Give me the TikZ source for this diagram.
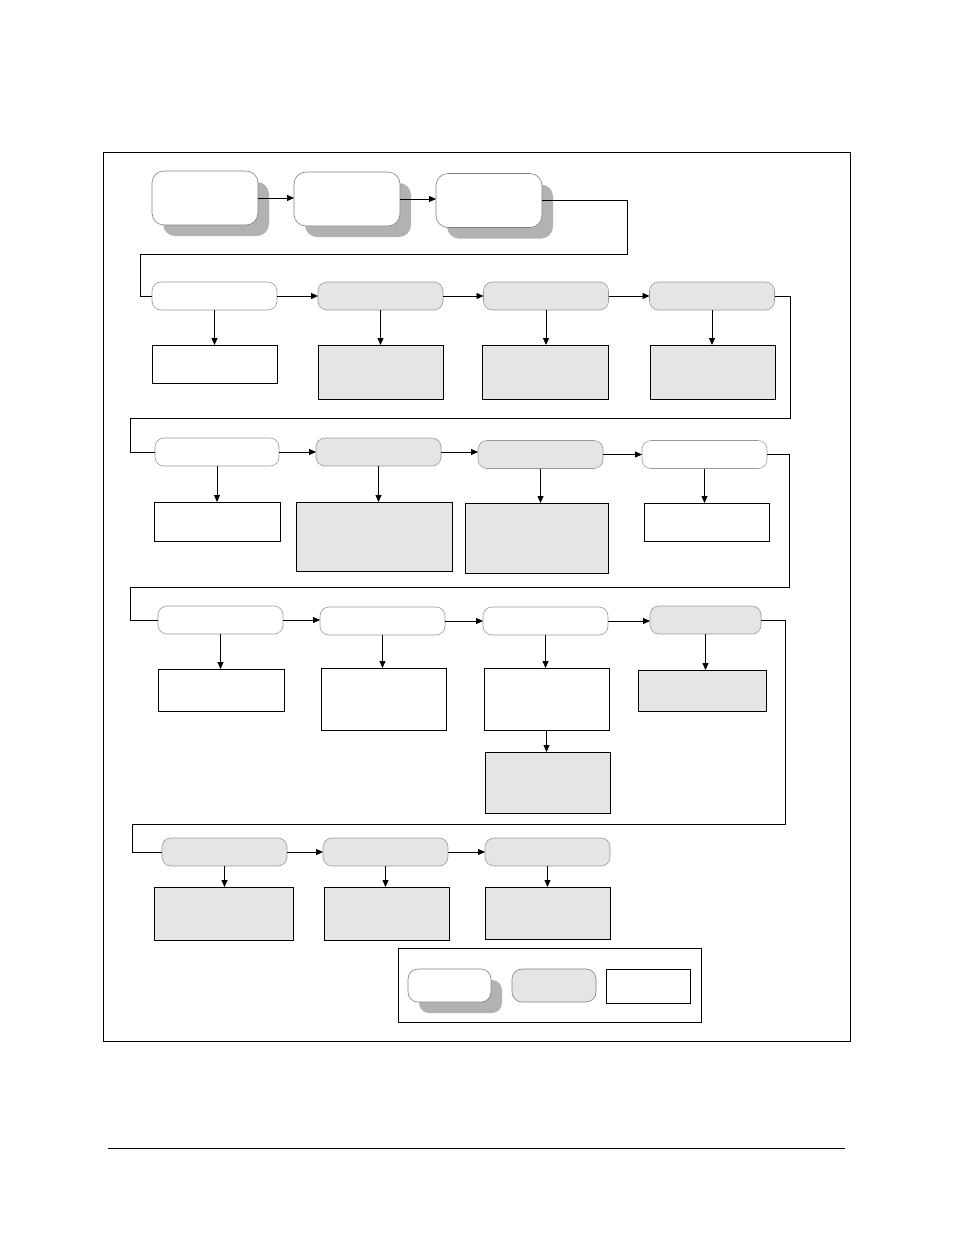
\documentclass[tikz,border=0pt]{standalone}
\usetikzlibrary{arrows.meta,shadows}

\begin{document}
\begin{tikzpicture}[x=1pt,y=-1pt,
    startbox/.style={draw=gray, fill=white, rounded corners=12pt, line width=0.6pt,
        minimum width=106pt, minimum height=54pt, inner sep=0pt, outer sep=0pt,
        drop shadow={shadow xshift=11pt, shadow yshift=-11pt, fill=gray!60, opacity=1}},
    stagebox/.style={draw=gray!80, fill=white, rounded corners=9pt, line width=0.6pt,
        minimum width=125pt, minimum height=28pt, inner sep=0pt, outer sep=0pt},
    stagegray/.style={stagebox, fill=gray!20},
    outbox/.style={draw=black, fill=white, line width=0.9pt,
        minimum width=125pt, inner sep=0pt, outer sep=0pt},
    outgray/.style={outbox, fill=gray!20},
    flow/.style={line width=0.8pt, -{Triangle[length=7pt,width=6pt]}},
    link/.style={line width=0.8pt}]
    \useasboundingbox (0,0) rectangle (954,1235);

    % Frame
    \draw[line width=0.9pt] (103,152) rectangle (850,1041);
    \draw[line width=0.9pt] (108,1148) -- (845,1148);

    % Start boxes
    \node[startbox] (start1) at (205,198) {};
    \node[startbox] (start2) at (347,199) {};
    \node[startbox] (start3) at (489,200.5) {};

    % Row 1
    \node[stagebox]  (stage1a) at (214.5,296) {};
    \node[stagegray] (stage1b) at (380.5,296) {};
    \node[stagegray] (stage1c) at (546,296) {};
    \node[stagegray] (stage1d) at (712,296) {};
    \node[outbox, minimum height=38pt] (out1a) at (214.5,364) {};
    \node[outgray, minimum height=54pt] (out1b) at (380.5,372) {};
    \node[outgray, minimum width=126pt, minimum height=54pt] (out1c) at (545,372) {};
    \node[outgray, minimum height=54pt] (out1d) at (712.5,372) {};

    % Row 2
    \node[stagebox, minimum width=124pt]  (stage2a) at (217,452) {};
    \node[stagegray] (stage2b) at (378.5,452) {};
    \node[stagegray] (stage2c) at (540.5,454.5) {};
    \node[stagebox]  (stage2d) at (704.5,454.5) {};
    \node[outbox, minimum width=126pt, minimum height=39pt] (out2a) at (217,521.5) {};
    \node[outgray, minimum width=156pt, minimum height=69pt] (out2b) at (374,536.5) {};
    \node[outgray, minimum width=143pt, minimum height=70pt] (out2c) at (536.5,538) {};
    \node[outbox, minimum height=38pt] (out2d) at (706.5,522) {};

    % Row 3
    \node[stagebox]  (stage3a) at (220.5,620) {};
    \node[stagebox]  (stage3b) at (382.5,621) {};
    \node[stagebox]  (stage3c) at (545.5,621) {};
    \node[stagegray, minimum width=111pt] (stage3d) at (705.5,620) {};
    \node[outbox, minimum width=126pt, minimum height=42pt] (out3a) at (221,690) {};
    \node[outbox, minimum height=62pt] (out3b) at (383.5,699) {};
    \node[outbox, minimum height=62pt] (out3c) at (546.5,699) {};
    \node[outgray, minimum height=61pt] (out3e) at (547.5,782.5) {};
    \node[outgray, minimum width=128pt, minimum height=41pt] (out3d) at (702,690.5) {};

    % Row 4
    \node[stagegray] (stage4a) at (224.5,852) {};
    \node[stagegray] (stage4b) at (385.5,852) {};
    \node[stagegray] (stage4c) at (547.5,852) {};
    \node[outgray, minimum width=139pt, minimum height=53pt] (out4a) at (223.5,913.5) {};
    \node[outgray, minimum height=53pt] (out4b) at (386.5,913.5) {};
    \node[outgray, minimum height=52pt] (out4c) at (547.5,913) {};

    % Legend
    \node[draw, line width=0.9pt, minimum width=303pt, minimum height=74pt, inner sep=0pt] (legend) at (549.5,985) {};
    \node[startbox, draw=gray, minimum width=83pt, minimum height=33pt, rounded corners=10pt] (key1) at (449.5,985.5) {};
    \node[stagegray, draw=gray, minimum width=84pt, minimum height=33pt, rounded corners=10pt] (key2) at (554,985.5) {};
    \node[outbox, minimum width=84pt, minimum height=34pt] (key3) at (648,986) {};

    % Bends
    \coordinate (bend1a) at (627,254);
    \coordinate (bend1b) at (140,254);
    \coordinate (bend2a) at (790,418);
    \coordinate (bend2b) at (130,418);
    \coordinate (bend3a) at (789,587);
    \coordinate (bend3b) at (130,587);
    \coordinate (bend4a) at (785,824);
    \coordinate (bend4b) at (132,824);

    % Arrows
    \draw[flow] (start1.east) -- (start1.east -| start2.west);
    \draw[flow] (start2.east) -- (start2.east -| start3.west);
    \draw[link] (start3.east) -| (bend1a) -- (bend1b) |- (stage1a.west);

    \draw[flow] (stage1a) -- (stage1b);
    \draw[flow] (stage1b) -- (stage1c);
    \draw[flow] (stage1c) -- (stage1d);
    \draw[flow] (stage1a) -- (out1a);
    \draw[flow] (stage1b) -- (out1b);
    \draw[flow] (stage1c) -- (stage1c |- out1c.north);
    \draw[flow] (stage1d) -- (stage1d |- out1d.north);
    \draw[link] (stage1d.east) -| (bend2a) -- (bend2b) |- (stage2a.west);

    \draw[flow] (stage2a.east) -- (stage2a.east -| stage2b.west);
    \draw[flow] (stage2b.east) -- (stage2b.east -| stage2c.west);
    \draw[flow] (stage2c) -- (stage2d);
    \draw[flow] (stage2a) -- (out2a);
    \draw[flow] (stage2b) -- (stage2b |- out2b.north);
    \draw[flow] (stage2c) -- (stage2c |- out2c.north);
    \draw[flow] (stage2d) -- (stage2d |- out2d.north);
    \draw[link] (stage2d.east) -| (bend3a) -- (bend3b) |- (stage3a.west);

    \draw[flow] (stage3a.east) -- (stage3a.east -| stage3b.west);
    \draw[flow] (stage3b) -- (stage3c);
    \draw[flow] (stage3c.east) -- (stage3c.east -| stage3d.west);
    \draw[flow] (stage3a) -- (stage3a |- out3a.north);
    \draw[flow] (stage3b) -- (stage3b |- out3b.north);
    \draw[flow] (stage3c) -- (stage3c |- out3c.north);
    \draw[flow] (out3c) -- (out3c |- out3e.north);
    \draw[flow] (stage3d) -- (stage3d |- out3d.north);
    \draw[link] (stage3d.east) -| (bend4a) -- (bend4b) |- (stage4a.west);

    \draw[flow] (stage4a) -- (stage4b);
    \draw[flow] (stage4b) -- (stage4c);
    \draw[flow] (stage4a) -- (stage4a |- out4a.north);
    \draw[flow] (stage4b) -- (stage4b |- out4b.north);
    \draw[flow] (stage4c) -- (out4c);
\end{tikzpicture}
\end{document}
